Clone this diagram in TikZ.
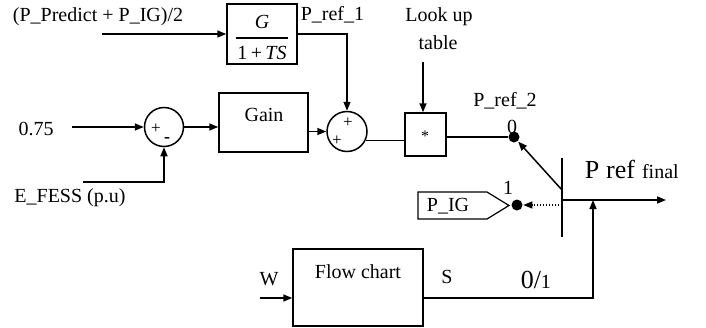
\documentclass[tikz,border=0pt]{standalone}
\usepackage{fontspec}
\setmainfont{Liberation Serif}
\usetikzlibrary{arrows.meta,calc}
\begin{document}
\begin{tikzpicture}[x=1pt,y=-1pt,
  line width=1.5pt,
  >={Triangle[length=9pt,width=7pt]},
  txt/.style={inner sep=0pt,font=\fontsize{20}{24}\selectfont},
  blk/.style={draw,rectangle,inner sep=0pt},
  sumc/.style={draw,circle,minimum size=39pt,inner sep=0pt},
  dotc/.style={fill,circle,minimum size=11pt,inner sep=0pt},
  sgn/.style={inner sep=0pt,font=\fontsize{17}{18}\selectfont}]
\useasboundingbox (0,0) rectangle (706,327);

% transfer function block
\node[blk,minimum width=70pt,minimum height=60pt] (tf) at (262,34) {};
\node[txt,font=\fontsize{20}{24}\selectfont\itshape] (tfG) at (262,22) {G};
\node[txt] (tfD) at (262,53) {1\,+\,\textit{TS}};
\draw[line width=1.1pt] ($(tf.west)+(10,4)$) -- ($(tf.east)+(-10,4)$);

\node[txt] (pp) at (98,17) {(P\_Predict + P\_IG)/2};
\coordinate (ppa) at (102,34);
\draw[->] (ppa) -- (tf.west);
\node[txt,anchor=west] (pr1) at (300,15) {P\_ref\_1};

% summer 1
\node[sumc] (s1) at (164,127) {};
\node[sgn] (s1p) at (156,129) {+};
\node[sgn,font=\fontsize{18}{18}\selectfont\bfseries] (s1m) at (167,140) {-};
\node[txt] (c075) at (36,129) {0.75};
\coordinate (a075) at (72,127);
\draw[->] (a075) -- (s1.west);
\node[txt] (ef) at (70,198) {E\_FESS (p.u)};
\coordinate (aef) at (83,182);
\draw[->] (aef) -| (s1.south);

% gain
\node[blk,minimum width=89pt,minimum height=59pt] (gain) at (263.5,122.5) {};
\node[txt] (gaint) at (264,115) {Gain};
\draw[->] (s1.east) -- (s1.east -| gain.west);

% summer 2
\node[sumc,minimum size=40pt] (s2) at (347,131.5) {};
\node[sgn] (s2a) at (348,123) {+};
\node[sgn] (s2b) at (337,141) {+};
\draw[->] (s2.west -| gain.east) -- (s2.west);
\draw[->] (tf.east) -| (s2.north);

% multiplier
\node[blk,minimum width=41pt,minimum height=43pt] (mult) at (425.5,134.5) {};
\node[txt,font=\fontsize{16}{18}\selectfont] (star) at (425,136) {*};
\draw (s2.-25) -- (s2.-25 -| mult.west);
\node[txt] (lu1) at (439,17) {Look up};
\node[txt] (lu2) at (438,43) {table};
\coordinate (lut) at (423,62);
\draw[->] (lut) -- (lut |- mult.north);

% switch
\node[dotc] (d0) at (514,137) {};
\node[dotc] (d1) at (517,205) {};
\draw (d0 -| mult.east) -- (d0);
\node[txt] (pr2) at (505,101) {P\_ref\_2};
\node[txt] (z0) at (512,127) {0};
\node[txt] (one) at (508,188) {1};

\coordinate (bt) at (562,158);
\coordinate (bb) at (562,237);
\draw (bt) -- (bb);
\coordinate (sw) at (562,190);
\draw[->] (sw) -- (d0);
\coordinate (swd) at (562,205);
\draw[->,line width=1.1pt,dash pattern=on 1.5pt off 1.5pt] (swd) -- (d1);
\coordinate (o1) at (562,200);
\coordinate (o2) at (666,200);
\draw[->] (o1) -- (o2);
\node[txt,anchor=base west] (pref) at (584,178) {{\fontsize{26}{30}\selectfont P\hspace{7pt}ref}\hspace{7pt}final};

% P_IG tag
\draw[line width=1.2pt] (418,192) -- (487,192) -- (509,205.5) -- (487,219) -- (418,219) -- cycle;
\node[txt] (pigt) at (448,206) {P\_IG};

% flow chart
\node[blk,minimum width=130pt,minimum height=77pt] (flow) at (358,287.5) {};
\node[txt] (flowt) at (358,272) {Flow chart};
\node[txt] (W) at (269,279) {W};
\coordinate (w) at (260,298);
\draw[->] (w) -- (w -| flow.west);
\node[txt] (S) at (447,277) {S};
\node[txt,anchor=base west] (o1t) at (520,288) {{\fontsize{26}{30}\selectfont 0/}1};
\coordinate (c1) at (593,298);
\draw[->] (w -| flow.east) -- (c1) -- (c1 |- o1);
\end{tikzpicture}
\end{document}
